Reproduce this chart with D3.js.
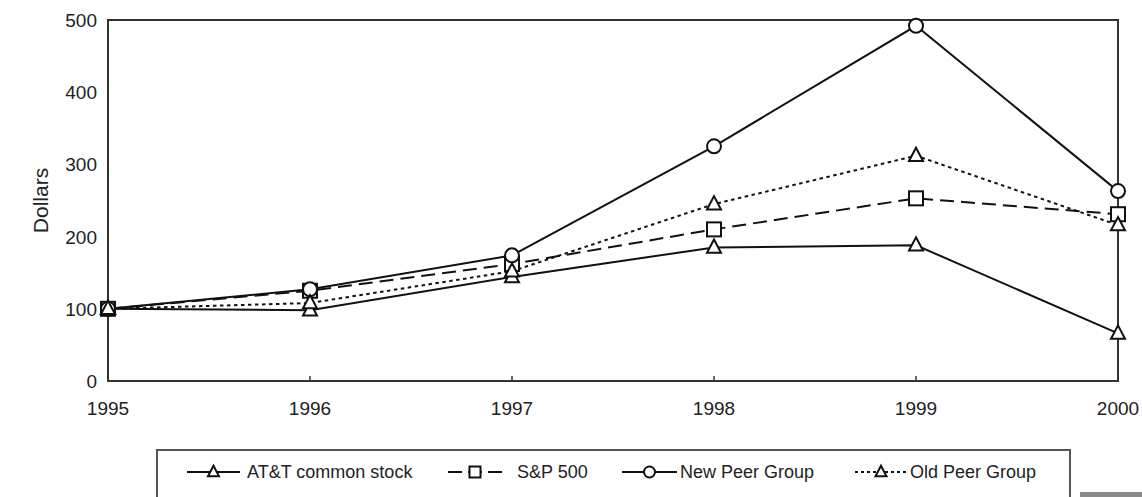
<!DOCTYPE html>
<html>
<head>
<meta charset="utf-8">
<script src="https://cdn.jsdelivr.net/npm/d3@7"></script>
<style>
  body { margin: 0; background: #fff; }
  svg text { font-family: "Liberation Sans", Arial, sans-serif; fill: #222; }
</style>
</head>
<body>
<div id="chart"></div>
<script>
var years = [1995, 1996, 1997, 1998, 1999, 2000];
var att = [100, 98, 144, 185, 188, 66];
var sp500 = [100, 125, 162, 210, 253, 231];
var newPeer = [100, 127, 174, 325, 492, 263];
var oldPeer = [100, 108, 152, 245, 312, 216];
var yTicks = [0, 100, 200, 300, 400, 500];
var names = ["AT&T common stock", "S&P 500", "New Peer Group", "Old Peer Group"];

var width = 1142, height = 497;
var plotLeft = 108, plotRight = 1118, plotTop = 20, plotBottom = 381;

var svg = d3.select("#chart").append("svg")
  .attr("width", width)
  .attr("height", height);

var x = d3.scaleLinear().domain([1995, 2000]).range([plotLeft, plotRight]);
var y = d3.scaleLinear().domain([0, 500]).range([plotBottom, plotTop]);

// frame
svg.append("rect")
  .attr("x", plotLeft).attr("y", plotTop)
  .attr("width", plotRight - plotLeft).attr("height", plotBottom - plotTop)
  .attr("fill", "none").attr("stroke", "#333").attr("stroke-width", 2);

// x ticks, pointing inward
svg.selectAll(".xtick")
  .data(years.slice(1, -1))
  .enter().append("line")
  .attr("x1", function(d) { return x(d); })
  .attr("x2", function(d) { return x(d); })
  .attr("y1", plotBottom).attr("y2", plotBottom - 5)
  .attr("stroke", "#333").attr("stroke-width", 1.5);

svg.selectAll(".xlab")
  .data(years)
  .enter().append("text")
  .attr("x", function(d) { return x(d); })
  .attr("y", plotBottom + 34)
  .attr("text-anchor", "middle")
  .style("font-size", "19px")
  .text(function(d) { return d; });

svg.selectAll(".ylab")
  .data(yTicks)
  .enter().append("text")
  .attr("x", plotLeft - 11)
  .attr("y", function(d) { return y(d) + 7; })
  .attr("text-anchor", "end")
  .style("font-size", "19px")
  .text(function(d) { return d; });

svg.append("text")
  .attr("transform", "translate(48," + (y(250)) + ") rotate(-90)")
  .attr("text-anchor", "middle")
  .style("font-size", "21px")
  .text("Dollars");

var series = [
  { name: names[0], values: att, dash: null, marker: "triangle" },
  { name: names[1], values: sp500, dash: "14,7", marker: "square" },
  { name: names[2], values: newPeer, dash: null, marker: "circle" },
  { name: names[3], values: oldPeer, dash: "3.5,3.5", marker: "triangle" }
];

var line = d3.line()
  .x(function(d, i) { return x(years[i]); })
  .y(function(d) { return y(d); });

function drawMarker(g, type, cx, cy, s) {
  if (type == "circle") {
    g.append("circle").attr("cx", cx).attr("cy", cy).attr("r", s * 0.5)
      .attr("fill", "#fff").attr("stroke", "#111").attr("stroke-width", 2);
  } else if (type == "square") {
    g.append("rect").attr("x", cx - s / 2).attr("y", cy - s / 2)
      .attr("width", s).attr("height", s)
      .attr("fill", "#fff").attr("stroke", "#111").attr("stroke-width", 2);
  } else {
    var h = s * 0.95;
    g.append("path")
      .attr("d", "M" + cx + "," + (cy - h * 0.6) + "L" + (cx + s / 2) + "," + (cy + h * 0.4) +
        "L" + (cx - s / 2) + "," + (cy + h * 0.4) + "Z")
      .attr("fill", "#fff").attr("stroke", "#111").attr("stroke-width", 2);
  }
}

series.forEach(function(s) {
  svg.append("path")
    .datum(s.values)
    .attr("d", line)
    .attr("fill", "none")
    .attr("stroke", "#111")
    .attr("stroke-width", 2)
    .attr("stroke-dasharray", s.dash);
});

series.forEach(function(s) {
  var g = svg.append("g");
  s.values.forEach(function(v, i) {
    drawMarker(g, s.marker, x(years[i]), y(v), 14);
  });
});

// legend
var legend = svg.append("g");
legend.append("rect")
  .attr("x", 157).attr("y", 450)
  .attr("width", 1070 - 157).attr("height", 60)
  .attr("fill", "#fff").attr("stroke", "#555").attr("stroke-width", 2);

var legX = [187, 448, 622, 855];
var legW = [53, 54, 55, 52];
var textX = [247, 517, 680, 910];
var ly = 472;
series.forEach(function(s, i) {
  legend.append("line")
    .attr("x1", legX[i]).attr("x2", legX[i] + legW[i])
    .attr("y1", ly).attr("y2", ly)
    .attr("stroke", "#111").attr("stroke-width", 2)
    .attr("stroke-dasharray", s.dash ? (i == 1 ? "14,6" : "3,3") : null);
  drawMarker(legend, s.marker, legX[i] + legW[i] / 2, ly, 11);
  legend.append("text")
    .attr("x", textX[i]).attr("y", ly + 6)
    .style("font-size", "18px")
    .text(s.name);
});

svg.append("rect")
  .attr("x", 1080).attr("y", 492)
  .attr("width", 62).attr("height", 5)
  .attr("fill", "#8a8a8a");
</script>
</body>
</html>
